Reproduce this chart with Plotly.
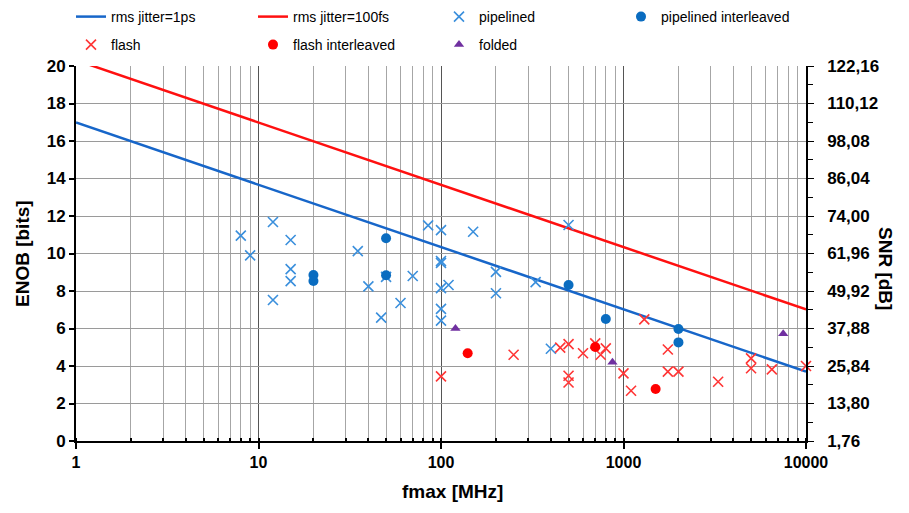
import plotly.graph_objects as go

# Jitter limit lines (endpoints)
jitter_f = [1, 10000]
enob_1ps = [16.99, 3.70]
enob_100fs = [20.31, 7.02]

# pipelined
pipe_f = [8, 9, 12, 12, 15, 15, 15, 35, 40, 47, 50, 60, 70, 85, 100, 100, 100, 100, 100, 100, 110, 150, 200, 200, 330, 400, 500]
pipe_e = [10.95, 9.9, 11.68, 7.52, 10.72, 9.17, 8.53, 10.13, 8.25, 6.58, 8.75, 7.36, 8.8, 11.5, 11.25, 9.6, 9.5, 8.15, 7.05, 6.42, 8.32, 11.16, 9.02, 7.88, 8.47, 4.92, 11.52]

# pipelined interleaved
pint_f = [20, 20, 50, 50, 500, 800, 2000, 2000]
pint_e = [8.85, 8.53, 10.81, 8.84, 8.32, 6.51, 5.97, 5.26]

# flash
flash_f = [100, 250, 450, 500, 500, 500, 600, 700, 750, 800, 1000, 1100, 1300, 1750, 1750, 2000, 3300, 5000, 5000, 6500, 10000]
flash_e = [3.45, 4.6, 4.98, 5.17, 3.48, 3.12, 4.68, 5.21, 4.6, 4.94, 3.61, 2.68, 6.49, 4.88, 3.7, 3.7, 3.16, 4.41, 3.88, 3.82, 4.0]

# flash interleaved
fint_f = [140, 700, 1500]
fint_e = [4.68, 5.01, 2.77]

# folded
fold_f = [120, 870, 7500]
fold_e = [6.0, 4.2, 5.72]

enob_ticks = list(range(0, 21, 2))
snr_labels = ["1,76", "13,80", "25,84", "37,88", "49,92", "61,96", "74,00", "86,04", "98,08", "110,12", "122,16"]
x_ticks = [1, 10, 100, 1000, 10000]
x_labels = ["1", "10", "100", "1000", "10000"]

FONT = "Liberation Sans, Arial, sans-serif"

W, H = 901, 505   # page body has an 8 px margin in the browser
OFF = 8

fig = go.Figure()
fig.add_trace(go.Scatter(x=jitter_f, y=enob_1ps, mode="lines", name="rms jitter=1ps",
                         line=dict(color="#1766c9", width=2.5), legend="legend"))
fig.add_trace(go.Scatter(x=jitter_f, y=enob_100fs, mode="lines", name="rms jitter=100fs",
                         line=dict(color="#ff1010", width=2.5), legend="legend2"))
fig.add_trace(go.Scatter(x=pipe_f, y=pipe_e, mode="markers", name="pipelined",
                         marker=dict(symbol="x-thin", size=10, line=dict(color="#3a8fdc", width=1.6)),
                         cliponaxis=False, legend="legend3"))
fig.add_trace(go.Scatter(x=pint_f, y=pint_e, mode="markers", name="pipelined interleaved",
                         marker=dict(symbol="circle", size=10, color="#0a6cc0"),
                         cliponaxis=False, legend="legend4"))
fig.add_trace(go.Scatter(x=flash_f, y=flash_e, mode="markers", name="flash",
                         marker=dict(symbol="x-thin", size=10, line=dict(color="#ff3535", width=1.6)),
                         cliponaxis=False, legend="legend5"))
fig.add_trace(go.Scatter(x=fint_f, y=fint_e, mode="markers", name="flash interleaved",
                         marker=dict(symbol="circle", size=10, color="#ff0000"),
                         cliponaxis=False, legend="legend6"))
fig.add_trace(go.Scatter(x=fold_f, y=fold_e, mode="markers", name="folded",
                         marker=dict(symbol="triangle-up", size=9, color="#7030a0"),
                         cliponaxis=False, legend="legend7"))
# invisible trace to activate right axis
fig.add_trace(go.Scatter(x=[1], y=[0], yaxis="y2", mode="markers", marker=dict(opacity=0),
                         showlegend=False, hoverinfo="skip"))

# legend text start positions (window px) and row centres (window px)
leg_pos = [(111, 17), (293, 17), (479, 17), (661, 17), (111, 45), (293, 45), (479, 45)]
legends = {}
for i, (tx, ty) in enumerate(leg_pos):
    key = "legend" if i == 0 else f"legend{i + 1}"
    legends[key] = dict(orientation="h", xref="container", yref="container", xanchor="left",
                        yanchor="middle", x=(tx - OFF - 40) / W, y=1 - (ty - OFF) / H,
                        font=dict(family=FONT, size=14, color="#000"),
                        bgcolor="rgba(0,0,0,0)", borderwidth=0, itemwidth=30)

fig.update_layout(
    width=W, height=H,
    margin=dict(l=76 - OFF, r=W - (806 - OFF), t=66 - OFF, b=H - (441 - OFF), autoexpand=False),
    paper_bgcolor="white", plot_bgcolor="white",
    font=dict(family=FONT, size=15, color="#000"),
    **legends,
    xaxis=dict(type="log", range=[0, 4], tickvals=x_ticks, ticktext=x_labels, automargin=False,
               tickfont=dict(family=FONT, size=16, color="#000", weight="bold"),
               showline=True, linecolor="#000", linewidth=2, ticks="outside", ticklen=6, tickwidth=2,
               tickcolor="#000", showgrid=True, gridcolor="#555555", gridwidth=1, zeroline=False,
               minor=dict(dtick="D1", showgrid=True, gridcolor="#a6a6a6", gridwidth=1,
                          ticks="inside", ticklen=3, tickcolor="#000")),
    yaxis=dict(range=[0, 20], tickvals=enob_ticks, ticktext=[str(v) for v in enob_ticks], automargin=False,
               tickfont=dict(family=FONT, size=17, color="#000", weight="bold"),
               showline=True, linecolor="#000", linewidth=2, ticks="outside", ticklen=5, tickwidth=1.5,
               tickcolor="#000", showgrid=True, gridcolor="#9a9a9a", gridwidth=1, zeroline=False),
    yaxis2=dict(overlaying="y", side="right", range=[0, 20], tickvals=enob_ticks, ticktext=snr_labels,
                automargin=False,
                tickfont=dict(family=FONT, size=17, color="#000", weight="bold"),
                showline=True, linecolor="#000", linewidth=1.5, ticks="outside", ticklen=6, tickwidth=1,
                tickcolor="#000", showgrid=False, zeroline=False, ticklabelstandoff=10,
                minor=dict(tickvals=list(range(1, 20, 2)), ticks="outside", ticklen=5, tickcolor="#000")),
)
fig.add_annotation(text="ENOB [bits]", xref="paper", yref="paper", x=(22 - 76) / 730, y=(441 - 254) / 375,
                   xanchor="center", yanchor="middle", textangle=-90, showarrow=False,
                   font=dict(family=FONT, size=19, color="#000", weight="bold"))
fig.add_annotation(text="SNR [dB]", xref="paper", yref="paper", x=(886 - 76) / 730, y=(441 - 268) / 375,
                   xanchor="center", yanchor="middle", textangle=90, showarrow=False,
                   font=dict(family=FONT, size=19, color="#000", weight="bold"))
fig.add_annotation(text="fmax [MHz]", xref="paper", yref="paper", x=(452 - 76) / 730, y=(441 - 491) / 375,
                   xanchor="center", yanchor="middle", showarrow=False,
                   font=dict(family=FONT, size=19, color="#000", weight="bold"))
fig.write_html("out.html")
